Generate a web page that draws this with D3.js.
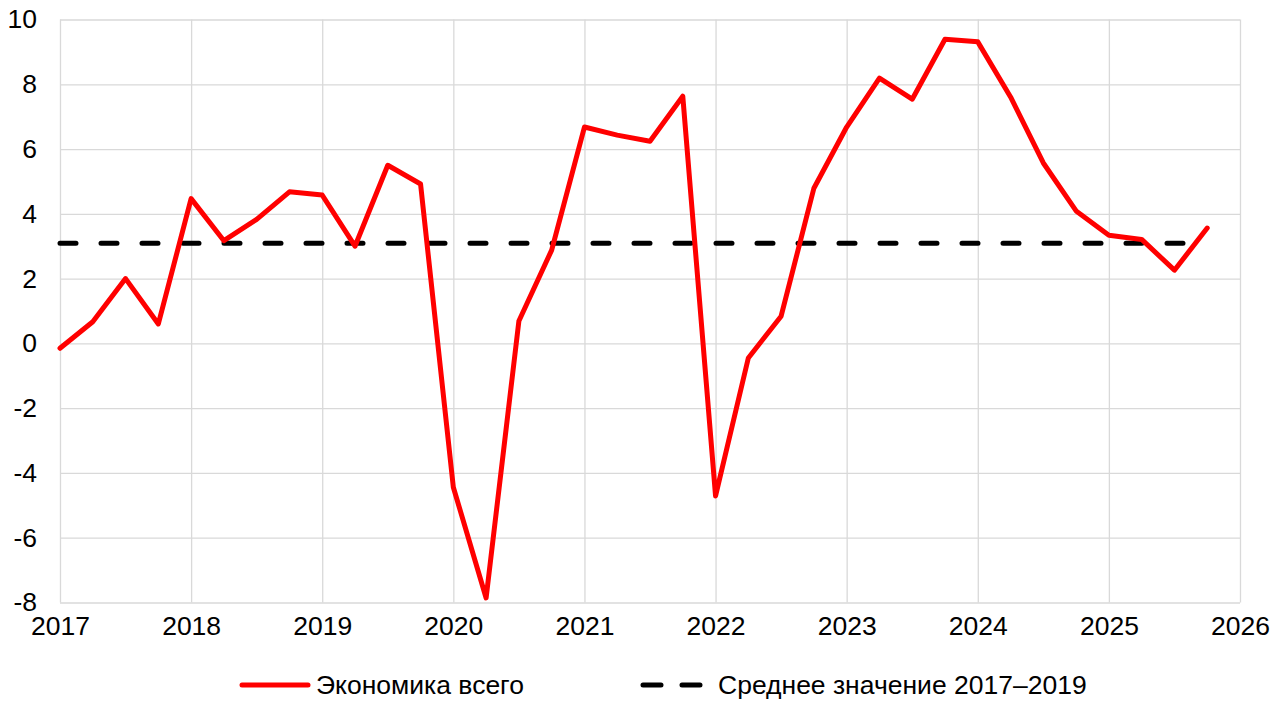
<!DOCTYPE html>
<html>
<head>
<meta charset="utf-8">
<script src="https://cdn.jsdelivr.net/npm/d3@7"></script>
<style>
  body { margin: 0; background: #fff; }
  svg text { font-family: "Liberation Sans", Arial, sans-serif; fill: #000; }
</style>
</head>
<body>
<div id="chart"></div>
<script>
// Data (quarterly, starting 2017 Q1)
const startYear = 2017;
const economyTotal = [
  -0.15, 0.67, 2.0, 0.6,
  4.47, 3.17, 3.83, 4.68,
  4.58, 3.0, 5.5, 4.92,
  -4.44, -7.86, 0.69, 2.88,
  6.68, 6.43, 6.24, 7.63,
  -4.71, -0.45, 0.84, 4.79,
  6.68, 8.19, 7.54, 9.39,
  9.31, 7.61, 5.57, 4.09,
  3.34, 3.21, 2.26, 3.56
];
const avg2017_2019 = 3.09;
const yearTicks = [2017, 2018, 2019, 2020, 2021, 2022, 2023, 2024, 2025, 2026];
const valueTicks = [-8, -6, -4, -2, 0, 2, 4, 6, 8, 10];
const seriesNames = ["Экономика всего", "Среднее значение 2017–2019"];

const W = 1282, H = 701;
const margin = { top: 19.5, right: 42, bottom: 98.5, left: 60 };
const width = W - margin.left - margin.right;
const height = H - margin.top - margin.bottom;
const fontSize = '26.5px';

const data = economyTotal.map((v, i) => ({ t: startYear + i * 0.25, v }));

const svg = d3.select('#chart').append('svg')
  .attr('width', W).attr('height', H);

const g = svg.append('g').attr('transform', `translate(${margin.left},${margin.top})`);

const x = d3.scaleLinear().domain([2017, 2026]).range([0, width]);
const y = d3.scaleLinear().domain([-8, 10]).range([height, 0]);

// Grid
g.append('g')
  .call(d3.axisLeft(y).tickValues(valueTicks).tickSize(-width).tickFormat(''))
  .call(a => a.select('.domain').remove())
  .selectAll('line').attr('stroke', '#d9d9d9').attr('stroke-width', 1.3);

g.append('g')
  .attr('transform', `translate(0,${height})`)
  .call(d3.axisBottom(x).tickValues(yearTicks).tickSize(-height).tickFormat(''))
  .call(a => a.select('.domain').remove())
  .selectAll('line').attr('stroke', '#d9d9d9').attr('stroke-width', 1.3);

// Axes labels (plain hyphen for negatives, like the original)
const yAxis = g.append('g')
  .call(d3.axisLeft(y).tickValues(valueTicks).tickSize(0).tickPadding(23).tickFormat(d => String(d)));
yAxis.select('.domain').remove();
yAxis.selectAll('text').style('font-size', fontSize).attr('fill', '#000');

const xAxis = g.append('g')
  .attr('transform', `translate(0,${height})`)
  .call(d3.axisBottom(x).tickValues(yearTicks).tickSize(0).tickPadding(14).tickFormat(d => String(d)));
xAxis.select('.domain').remove();
xAxis.selectAll('text').style('font-size', fontSize).attr('fill', '#000');

// Average line
g.append('line')
  .attr('x1', x(data[0].t)).attr('x2', x(data[data.length - 1].t))
  .attr('y1', y(avg2017_2019)).attr('y2', y(avg2017_2019))
  .attr('stroke', '#000').attr('stroke-width', 5)
  .attr('stroke-dasharray', '16,25').attr('stroke-linecap', 'round');

// Series line
const line = d3.line().x(d => x(d.t)).y(d => y(d.v));
g.append('path')
  .datum(data)
  .attr('d', line)
  .attr('fill', 'none')
  .attr('stroke', '#ff0000')
  .attr('stroke-width', 5)
  .attr('stroke-linejoin', 'round')
  .attr('stroke-linecap', 'round');

// Legend
const leg = svg.append('g').attr('transform', 'translate(0,685)');
leg.append('line')
  .attr('x1', 242).attr('x2', 308).attr('y1', 0).attr('y2', 0)
  .attr('stroke', '#ff0000').attr('stroke-width', 5).attr('stroke-linecap', 'round');
leg.append('text')
  .attr('x', 316).attr('y', 0).attr('dy', '0.35em')
  .style('font-size', fontSize).text(seriesNames[0]);

leg.append('line')
  .attr('x1', 643).attr('x2', 705).attr('y1', 0).attr('y2', 0)
  .attr('stroke', '#000').attr('stroke-width', 5)
  .attr('stroke-dasharray', '18,21').attr('stroke-linecap', 'round');
leg.append('text')
  .attr('x', 718).attr('y', 0).attr('dy', '0.35em')
  .style('font-size', fontSize).text(seriesNames[1]);
</script>
</body>
</html>
